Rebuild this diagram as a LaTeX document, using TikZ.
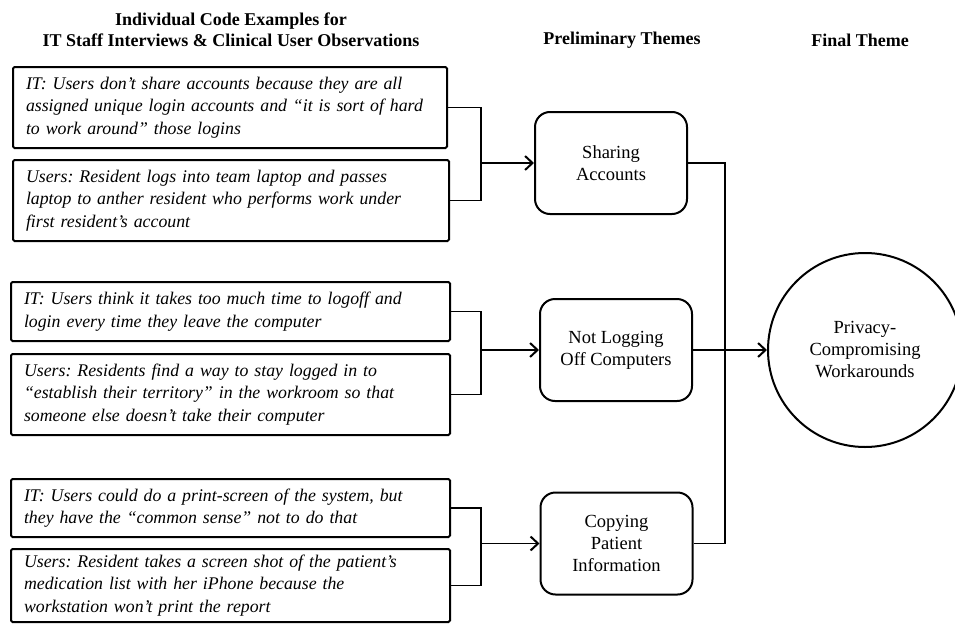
\documentclass[tikz,border=0pt]{standalone}
\usepackage{fontspec}
\setmainfont{Liberation Serif}
\usetikzlibrary{arrows.meta}
\begin{document}
\frenchspacing
\begin{tikzpicture}[x=1pt,y=-1pt,
 codebox/.style={draw, line width=2pt, rounded corners=1.5pt, anchor=north west, inner xsep=13pt, inner ysep=0pt, align=left, font=\fontsize{17.8}{22.5}\selectfont\itshape},
 themebox/.style={draw, line width=2pt, rounded corners=15pt, minimum width=152pt, minimum height=102pt, align=center, font=\fontsize{18.5}{22}\selectfont},
 head/.style={font=\fontsize{18}{21}\selectfont\bfseries, align=center},
 conn/.style={line width=1.8pt},
 arr/.style={conn, -{Straight Barb[length=7.5pt,width=14pt,line width=2pt]}}
]
\useasboundingbox (0,0) rectangle (955,629);

\node[head] (h1) at (231,30) {Individual Code Examples for\\IT Staff Interviews \& Clinical User Observations};
\node[head] (h2) at (622,40) {Preliminary Themes};
\node[head] (h3) at (860,40) {Final Theme};

\node[codebox, text width=408pt, minimum height=81pt] (b1) at (12,66) {IT: Users don’t share accounts because they are all\\assigned unique login accounts and “it is sort of hard\\to work around” those logins};
\node[codebox, text width=410pt, minimum height=81pt] (b2) at (12,159) {Users: Resident logs into team laptop and passes\\laptop to anther resident who performs work under\\first resident’s account};
\node[codebox, text width=413pt, minimum height=59pt] (b3) at (10,281) {IT: Users think it takes too much time to logoff and\\login every time they leave the computer};
\node[codebox, text width=413pt, minimum height=81pt] (b4) at (10,353) {Users: Residents find a way to stay logged in to\\“establish their territory” in the workroom so that\\someone else doesn’t take their computer};
\node[codebox, text width=413pt, minimum height=58pt] (b5) at (10,478) {IT: Users could do a print-screen of the system, but\\they have the “common sense” not to do that};
\node[codebox, text width=413pt, minimum height=73pt] (b6) at (10,548) {Users: Resident takes a screen shot of the patient’s\\medication list with her iPhone because the\\workstation won’t print the report};

\node[themebox] (sh) at (611,163) {Sharing\\Accounts};
\node[themebox] (nl) at (616,350) {Not Logging\\Off Computers};
\node[themebox] (cp) at (616.5,543.5) {Copying\\Patient\\Information};

\node[draw, circle, line width=2pt, minimum size=194pt, align=center, font=\fontsize{18.5}{22}\selectfont] (pw) at (865,350) {Privacy-\\Compromising\\Workarounds};

\coordinate (x1) at (481,0);
\coordinate (x2) at (725,0);

\draw[conn] (b1.east) -- (b1.east -| x1) -- (b2.east -| x1) -- (b2.east);
\draw[arr] (sh.west -| x1) -- (sh.west);
\draw[conn] (b3.east) -- (b3.east -| x1) -- (b4.east -| x1) -- (b4.east);
\draw[arr] (nl.west -| x1) -- (nl.west);
\draw[conn] (b5.east) -- (b5.east -| x1) -- (b6.east -| x1) -- (b6.east);
\draw[arr] (cp.west -| x1) -- (cp.west);

\draw[conn] (sh.east) -- (sh.east -| x2) -- (cp.east -| x2) -- (cp.east);
\draw[arr] (nl.east) -- (pw.west);
\end{tikzpicture}
\end{document}
